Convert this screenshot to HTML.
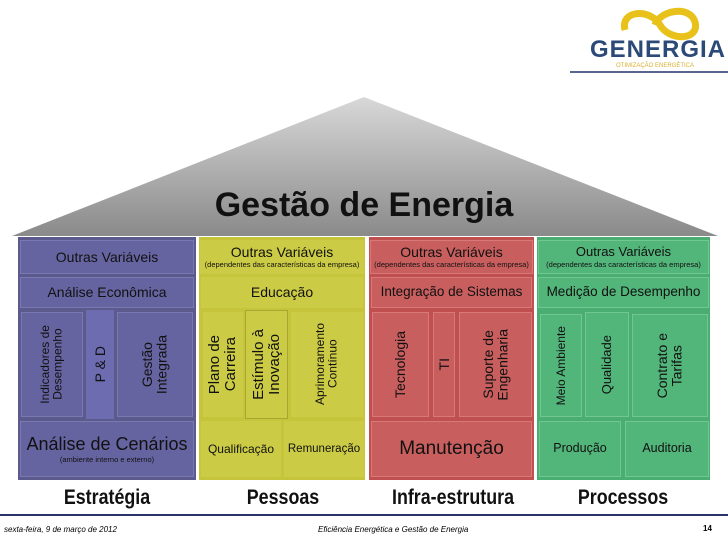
<!DOCTYPE html>
<html><head><meta charset="utf-8"><style>
body{margin:0;width:728px;height:546px;background:#fff;position:relative;overflow:hidden;font-family:"Liberation Sans",sans-serif}
.a{position:absolute;box-sizing:border-box;display:flex;align-items:center;justify-content:center;text-align:center;color:#111;line-height:1.05}
.col{position:absolute;box-sizing:border-box}
.v{writing-mode:vertical-rl;transform:rotate(180deg)}
.sm{font-size:7.5px;display:block;margin-top:2px}
.lab{position:absolute;font-weight:bold;font-size:21px;top:486px;transform:translateX(-50%) scaleX(0.85);white-space:nowrap;color:#111}
</style></head><body>
<svg style="position:absolute;left:0;top:0" width="728" height="546">
<defs><linearGradient id="g" x1="0" y1="0" x2="0" y2="1"><stop offset="0" stop-color="#d8d8d8"/><stop offset="1" stop-color="#8a8a8a"/></linearGradient></defs>
<polygon points="364,97 718,236 12,236" fill="url(#g)"/>
<line x1="0" y1="515" x2="728" y2="515" stroke="#2a3368" stroke-width="2"/>
<line x1="570" y1="72" x2="728" y2="72" stroke="#22306a" stroke-width="1.5"/>
<path d="M625,30 C620,10 650,8 660,25 C670,42 700,40 695,22 C690,5 660,10 655,25" fill="none" stroke="#e8c21a" stroke-width="7"/>
</svg>
<div class="a" style="left:590px;top:38px;width:136px;height:24px;font-size:24px;font-weight:bold;color:#2c4a78;letter-spacing:1px">GENERGIA</div>
<div class="a" style="left:600px;top:62px;width:110px;height:8px;font-size:6px;color:#d8b030">OTIMIZAÇÃO ENERGÉTICA</div>
<div class="a" style="left:150px;top:184px;width:428px;height:44px;font-size:34px;font-weight:bold">Gestão de Energia</div>

<div class="col" style="left:18px;top:237px;width:178px;height:243px;background:#5c5a8c"></div>
<div class="col" style="left:199px;top:237px;width:166px;height:243px;background:#c6c43a"></div>
<div class="col" style="left:369px;top:237px;width:165px;height:243px;background:#c0504f"></div>
<div class="col" style="left:537px;top:237px;width:173px;height:243px;background:#4aad72"></div>

<div class="a" style="left:20px;top:240px;width:174px;height:34px;background:#6664a0;font-size:14px;border:1px solid #7a78b0">Outras Variáveis</div>
<div class="a" style="left:20px;top:277px;width:174px;height:31px;background:#6664a0;font-size:14px;border:1px solid #7a78b0">Análise Econômica</div>
<div class="a" style="left:21px;top:312px;width:62px;height:105px;background:#6664a0;font-size:12px;border:1px solid #7a78b0"><span class="v">Indicadores de<br>Desempenho</span></div>
<div class="a" style="left:86px;top:310px;width:28px;height:109px;background:#6e6cb0;font-size:14px"><span class="v">P &amp; D</span></div>
<div class="a" style="left:117px;top:312px;width:76px;height:105px;background:#6664a0;font-size:14px;border:1px solid #7a78b0"><span class="v">Gestão<br>Integrada</span></div>
<div class="a" style="left:20px;top:421px;width:174px;height:56px;background:#6664a0;font-size:18px;border:1px solid #7a78b0;flex-direction:column">Análise de Cenários<span class="sm">(ambiente interno e externo)</span></div>

<div class="a" style="left:200px;top:240px;width:164px;height:34px;background:#cccb45;font-size:14px;flex-direction:column">Outras Variáveis<span class="sm">(dependentes das características da empresa)</span></div>
<div class="a" style="left:201px;top:277px;width:162px;height:31px;background:#cccb45;font-size:14px">Educação</div>
<div class="a" style="left:203px;top:312px;width:40px;height:105px;background:#cccb45;font-size:15px"><span class="v">Plano de<br>Carreira</span></div>
<div class="a" style="left:245px;top:310px;width:43px;height:109px;background:#cccb45;font-size:15px;border:1px solid #a8a630"><span class="v">Estímulo à<br>Inovação</span></div>
<div class="a" style="left:291px;top:312px;width:72px;height:105px;background:#cccb45;font-size:12px"><span class="v">Aprimoramento<br>Contínuo</span></div>
<div class="a" style="left:201px;top:421px;width:80px;height:56px;background:#cccb45;font-size:12px">Qualificação</div>
<div class="a" style="left:284px;top:421px;width:80px;height:56px;background:#cccb45;font-size:11.5px">Remuneração</div>

<div class="a" style="left:370px;top:240px;width:163px;height:34px;background:#c85e5e;font-size:14px;border:1px solid #d87878;flex-direction:column">Outras Variáveis<span class="sm">(dependentes das características da empresa)</span></div>
<div class="a" style="left:371px;top:277px;width:161px;height:31px;background:#c85e5e;font-size:13.5px;border:1px solid #d87878">Integração de Sistemas</div>
<div class="a" style="left:372px;top:312px;width:57px;height:105px;background:#c85e5e;font-size:14px;border:1px solid #d87878"><span class="v">Tecnologia</span></div>
<div class="a" style="left:433px;top:312px;width:22px;height:105px;background:#c85e5e;font-size:14px;border:1px solid #d87878"><span class="v">TI</span></div>
<div class="a" style="left:459px;top:312px;width:73px;height:105px;background:#c85e5e;font-size:14px;border:1px solid #d87878"><span class="v">Suporte de<br>Engenharia</span></div>
<div class="a" style="left:371px;top:421px;width:161px;height:56px;background:#c85e5e;font-size:19px;border:1px solid #d87878">Manutenção</div>

<div class="a" style="left:538px;top:240px;width:171px;height:34px;background:#52b57a;font-size:13px;border:1px solid #70c890;flex-direction:column">Outras Variáveis<span class="sm">(dependentes das características da empresa)</span></div>
<div class="a" style="left:538px;top:277px;width:171px;height:31px;background:#52b57a;font-size:13.5px;border:1px solid #70c890">Medição de Desempenho</div>
<div class="a" style="left:540px;top:314px;width:42px;height:103px;background:#52b57a;font-size:12px;border:1px solid #70c890"><span class="v">Meio Ambiente</span></div>
<div class="a" style="left:585px;top:312px;width:44px;height:105px;background:#52b57a;font-size:13px;border:1px solid #70c890"><span class="v">Qualidade</span></div>
<div class="a" style="left:632px;top:314px;width:76px;height:103px;background:#52b57a;font-size:14px;border:1px solid #70c890"><span class="v">Contrato e<br>Tarifas</span></div>
<div class="a" style="left:539px;top:421px;width:82px;height:56px;background:#52b57a;font-size:12.5px;border:1px solid #70c890">Produção</div>
<div class="a" style="left:625px;top:421px;width:84px;height:56px;background:#52b57a;font-size:12.5px;border:1px solid #70c890">Auditoria</div>

<div class="lab" style="left:107px">Estratégia</div>
<div class="lab" style="left:283px">Pessoas</div>
<div class="lab" style="left:453px">Infra-estrutura</div>
<div class="lab" style="left:623px">Processos</div>

<div style="position:absolute;left:4px;top:525px;font-size:8px;font-style:italic">sexta-feira, 9 de março de 2012</div>
<div style="position:absolute;left:318px;top:525px;font-size:8px;font-style:italic">Eficiência Energética e Gestão de Energia</div>
<div style="position:absolute;left:703px;top:524px;font-size:8px;font-weight:bold">14</div>
</body></html>
